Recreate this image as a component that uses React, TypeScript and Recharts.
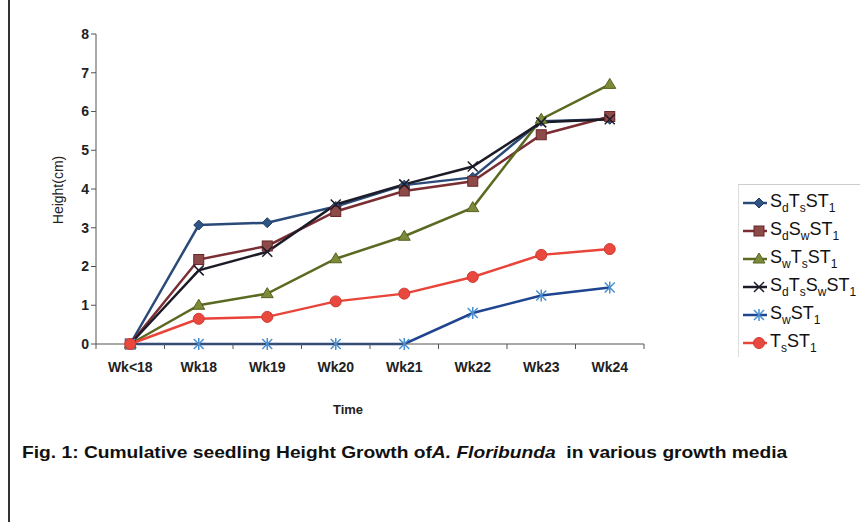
import React from 'react'
import { LineChart, Line, XAxis, YAxis } from 'recharts'

// Cumulative seedling height (cm) per week, one array per growth medium
const weeks = ['Wk<18', 'Wk18', 'Wk19', 'Wk20', 'Wk21', 'Wk22', 'Wk23', 'Wk24']
const sdTsST1 = [0, 3.07, 3.13, 3.55, 4.1, 4.3, 5.75, 5.8]
const sdSwST1 = [0, 2.18, 2.53, 3.42, 3.95, 4.2, 5.4, 5.87]
const swTsST1 = [0, 1.0, 1.3, 2.2, 2.78, 3.52, 5.8, 6.7]
const sdTsSwST1 = [0, 1.9, 2.38, 3.6, 4.12, 4.58, 5.72, 5.8]
const swST1 = [0, 0, 0, 0, 0, 0.8, 1.25, 1.46]
const tsST1 = [0, 0.65, 0.7, 1.1, 1.3, 1.73, 2.3, 2.45]
const yTicks = [0, 1, 2, 3, 4, 5, 6, 7, 8]

const data = weeks.map((wk, i) => ({
  idx: i,
  wk,
  s1: sdTsST1[i],
  s2: sdSwST1[i],
  s3: swTsST1[i],
  s4: sdTsSwST1[i],
  s5: swST1[i],
  s6: tsST1[i],
}))

// labels on the categories, tick marks between them (Excel style)
const xTicks = [-0.5, ...weeks.flatMap((_, i) => [i, i + 0.5])]

type Shape = 'diamond' | 'square' | 'triangle' | 'x' | 'star' | 'circle'

function Marker({ shape, cx, cy, fill, stroke }: { shape: Shape; cx: number; cy: number; fill: string; stroke: string }) {
  switch (shape) {
    case 'diamond':
      return <polygon points={`${cx},${cy - 5} ${cx + 5},${cy} ${cx},${cy + 5} ${cx - 5},${cy}`} fill={fill} stroke={stroke} strokeWidth={1} />
    case 'square':
      return <rect x={cx - 5} y={cy - 5} width={10} height={10} fill={fill} stroke={stroke} strokeWidth={1} />
    case 'triangle':
      return <polygon points={`${cx},${cy - 6} ${cx + 6},${cy + 4} ${cx - 6},${cy + 4}`} fill={fill} stroke={stroke} strokeWidth={1} />
    case 'x':
      return (
        <g stroke={stroke} strokeWidth={1.5}>
          <line x1={cx - 5} y1={cy - 5} x2={cx + 5} y2={cy + 5} />
          <line x1={cx - 5} y1={cy + 5} x2={cx + 5} y2={cy - 5} />
        </g>
      )
    case 'star':
      return (
        <g stroke={stroke} strokeWidth={1.5}>
          <line x1={cx - 5} y1={cy - 5} x2={cx + 5} y2={cy + 5} />
          <line x1={cx - 5} y1={cy + 5} x2={cx + 5} y2={cy - 5} />
          <line x1={cx} y1={cy - 6} x2={cx} y2={cy + 6} />
        </g>
      )
    default:
      return <circle cx={cx} cy={cy} r={5.5} fill={fill} stroke={stroke} strokeWidth={1} />
  }
}

const makeDot = (shape: Shape, fill: string, stroke: string) => (props: any) => (
  <Marker key={props.key ?? props.index} shape={shape} cx={props.cx} cy={props.cy} fill={fill} stroke={stroke} />
)

const series = [
  { key: 's1', line: '#2a4a78', shape: 'diamond' as Shape, fill: '#2f5584', stroke: '#1f3a60', label: ['S', 'd', 'T', 's', 'ST', '1'] },
  { key: 's2', line: '#7a2e34', shape: 'square' as Shape, fill: '#8c4a48', stroke: '#6a2428', label: ['S', 'd', 'S', 'w', 'ST', '1'] },
  { key: 's3', line: '#5a6a22', shape: 'triangle' as Shape, fill: '#7d8a3a', stroke: '#55621e', label: ['S', 'w', 'T', 's', 'ST', '1'] },
  { key: 's4', line: '#1c1c28', shape: 'x' as Shape, fill: '#1c1c28', stroke: '#1c1c28', label: ['S', 'd', 'T', 's', 'S', 'w', 'ST', '1'] },
  { key: 's5', line: '#1f4590', shape: 'star' as Shape, fill: '#4a8fd0', stroke: '#4a8fd0', label: ['S', 'w', 'ST', '1'] },
  { key: 's6', line: '#e8443a', shape: 'circle' as Shape, fill: '#e8483e', stroke: '#d03a30', label: ['T', 's', 'ST', '1'] },
]

function LegendLabel({ parts }: { parts: string[] }) {
  return (
    <span>
      {parts.map((p, i) => (i % 2 === 0 ? <span key={i}>{p}</span> : <sub key={i} style={{ fontSize: 12 }}>{p}</sub>))}
    </span>
  )
}

function XTick(props: any) {
  const { x, y, payload } = props
  const v = payload.value as number
  if (Number.isInteger(v)) {
    return (
      <text x={x} y={y + 24} textAnchor="middle" dominantBaseline="middle" fill="#222" fontSize={14} fontWeight="bold">
        {weeks[v]}
      </text>
    )
  }
  return <line x1={x} y1={y} x2={x} y2={y + 5} stroke="#555" />
}

export default function App() {
  return (
    <div style={{ position: 'absolute', left: 0, top: 0, width: 860, height: 522, background: '#fff', fontFamily: 'Arial, "Liberation Sans", sans-serif', overflow: 'hidden' }}>
      <div style={{ position: 'absolute', left: 8, top: 0, width: 1.5, height: 522, background: '#333' }} />

      <LineChart width={860} height={522} data={data} margin={{ top: 34, right: 216, left: 36, bottom: 148 }}>
        <XAxis
          type="number"
          dataKey="idx"
          domain={[-0.5, 7.5]}
          ticks={xTicks}
          interval={0}
          tickLine={false}
          tickSize={0}
          tickMargin={0}
          height={30}
          stroke="#555"
          tick={<XTick />}
        />
        <YAxis domain={[0, 8]} ticks={yTicks} tickSize={5} stroke="#555" tick={{ fill: '#222', fontSize: 14, fontWeight: 'bold' }} />
        {series.map((s) => (
          <Line
            key={s.key}
            dataKey={s.key}
            type="linear"
            stroke={s.line}
            strokeWidth={2.5}
            dot={makeDot(s.shape, s.fill, s.stroke)}
            activeDot={false}
            isAnimationActive={false}
          />
        ))}
      </LineChart>

      <div style={{ position: 'absolute', left: 58, top: 190, transform: 'translate(-50%, -50%) rotate(-90deg)', fontSize: 14, color: '#222', whiteSpace: 'nowrap' }}>
        Height(cm)
      </div>
      <div style={{ position: 'absolute', left: 348, top: 409, transform: 'translate(-50%, -50%)', fontSize: 13, fontWeight: 'bold', color: '#222' }}>
        Time
      </div>
      <div style={{ position: 'absolute', left: 22, top: 443, fontSize: 17, fontWeight: 'bold', color: '#111', whiteSpace: 'nowrap', transform: 'scaleX(1.13)', transformOrigin: 'left top' }}>
        Fig. 1: Cumulative seedling Height Growth of<i>A. Floribunda</i>&nbsp; in various growth media
      </div>

      <div style={{ position: 'absolute', left: 738, top: 184, width: 130, height: 172, borderTop: '1px solid #ccc', borderLeft: '1px solid #ddd' }}>
        {series.map((s, i) => (
          <div key={s.key} style={{ position: 'absolute', left: 4, top: 4 + i * 28, height: 28, display: 'flex', alignItems: 'center', fontSize: 18, color: '#111', whiteSpace: 'nowrap' }}>
            <svg width={24} height={14} style={{ marginRight: 3 }}>
              <line x1={0} y1={7} x2={24} y2={7} stroke={s.line} strokeWidth={2.5} />
              <Marker shape={s.shape} cx={16} cy={7} fill={s.fill} stroke={s.stroke} />
            </svg>
            <LegendLabel parts={s.label} />
          </div>
        ))}
      </div>
    </div>
  )
}
